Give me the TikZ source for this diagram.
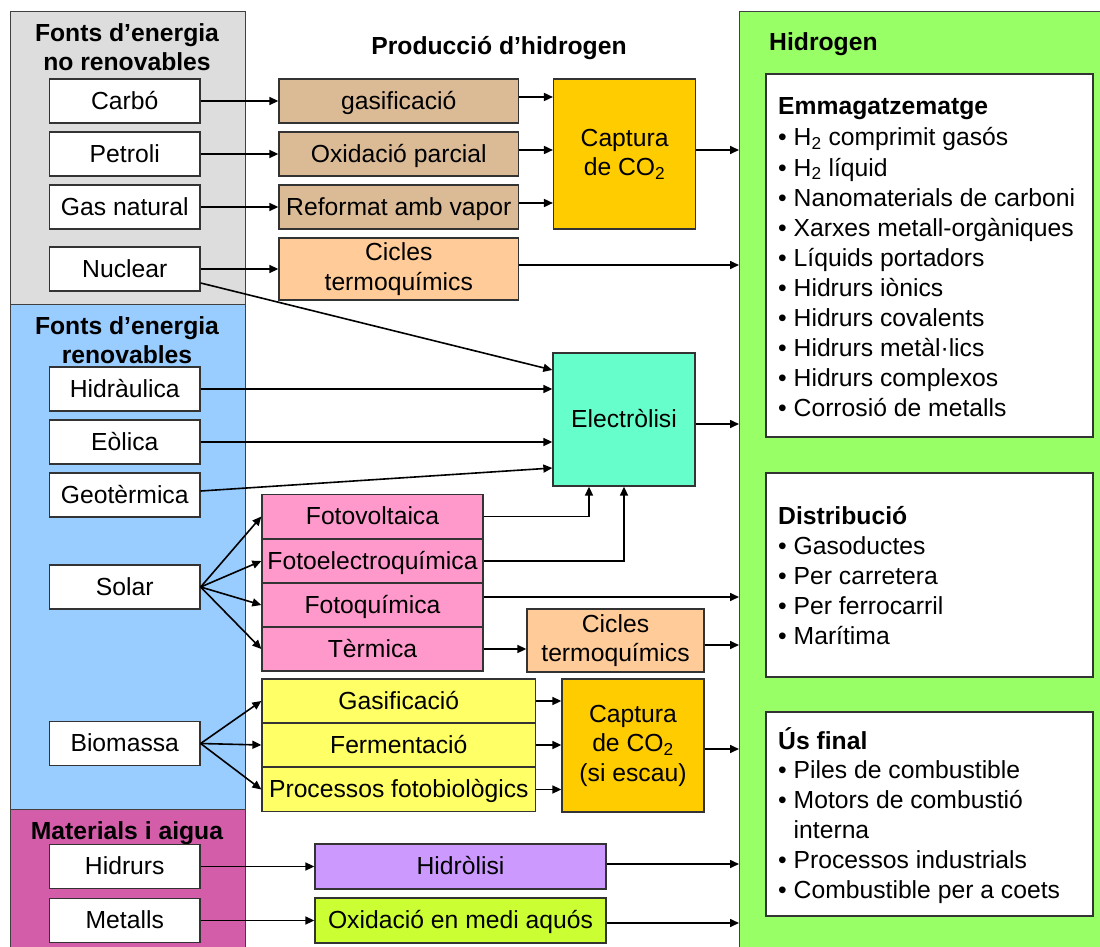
\documentclass[tikz,border=0pt]{standalone}
\usepackage{fontspec}
\setmainfont{Liberation Sans}
\usetikzlibrary{arrows.meta}

\definecolor{gris}{HTML}{DDDDDD}
\definecolor{blau}{HTML}{99CCFF}
\definecolor{lila}{HTML}{D45DA9}
\definecolor{verd}{HTML}{99FF66}
\definecolor{marro}{HTML}{DBBA96}
\definecolor{pressec}{HTML}{FFCC99}
\definecolor{taronja}{HTML}{FFCC00}
\definecolor{turquesa}{HTML}{66FFCC}
\definecolor{rosa}{HTML}{FF99CC}
\definecolor{groc}{HTML}{FFFF66}
\definecolor{violeta}{HTML}{CC99FF}
\definecolor{llima}{HTML}{CCFF33}

\begin{document}
\begin{tikzpicture}[x=1pt, y=-1pt, font=\fontsize{24.7}{29.5}\selectfont,
	box/.style={draw=black!80, line width=1.3pt, inner sep=0pt, align=center},
	single/.style={text height=18pt, text depth=1.2pt},
	panel/.style={draw=black!75, line width=1pt, inner sep=0pt, anchor=north west},
	title/.style={font=\fontsize{24.7}{29.5}\selectfont\bfseries, inner sep=0pt, align=center},
	item/.style={inner sep=0pt, anchor=base west},
	arr/.style={-{Triangle[length=9pt, width=8pt]}, line width=1.6pt}]
\useasboundingbox (0, 0) rectangle (1100, 947);
\def\drawbox#1#2#3#4#5#6{% {nom}{centre}{amplada}{alçada}{estil}{text}
	\node[box, #5, minimum width=#3, minimum height=#4] (#1) at (#2) {#6}
}
\def\drawpanel#1#2#3#4#5{% {nom}{cantó}{amplada}{alçada}{color}
	\node[panel, fill=#5, minimum width=#3, minimum height=#4] (#1) at (#2) {}
}

\drawpanel{norenov}{9.8, 11}{234.7}{293}{gris};
\drawpanel{renov}{9.8, 304}{234.7}{505}{blau};
\drawpanel{materials}{9.8, 809}{234.7}{160}{lila};
\drawpanel{hidrogen}{739, 11}{380}{960}{verd};

\node[title, anchor=north] (tnorenov) at (127, 21) {\rule{0pt}{20pt}Fonts d’energia\\no renovables};
\node[title, anchor=north] (trenov) at (127, 314) {\rule{0pt}{20pt}Fonts d’energia\\renovables};
\node[title, anchor=base] (tmaterials) at (127, 839) {Materials i aigua};
\node[title, anchor=base] (tproduccio) at (499, 55) {Producció d’hidrogen};
\node[title, anchor=base west] (thidrogen) at (769, 51) {Hidrogen};

\foreach \nom/\y/\txt in {carbo/101/Carbó, petroli/154/Petroli, gasnat/207/Gas natural, nuclear/269/Nuclear,
		hidraulica/389/Hidràulica, eolica/442/Eòlica, geoterm/495/Geotèrmica, solar/587/Solar,
		biomassa/743.5/Biomassa, hidrurs/866.5/Hidrurs, metalls/920.5/Metalls}
	\drawbox{\nom}{124.75, \y}{150.5}{44}{fill=white, single}{\txt};
\foreach \nom/\y/\txt in {gasif/101/gasificació, oxid/154/Oxidació parcial, reform/207/Reformat amb vapor}
	\drawbox{\nom}{398.75, \y}{239.5}{44}{fill=marro, single}{\txt};
\drawbox{cicles1}{398.75, 269}{239.5}{62}{fill=pressec}{Cicles\\termoquímics};
\drawbox{captura1}{624.6, 154}{142}{150}{fill=taronja}{Captura\\de CO\textsubscript{2}};
\drawbox{electro}{624, 419.5}{142}{133}{fill=turquesa, single}{Electròlisi};
\foreach \nom/\y/\txt in {fotovolt/516.5/Fotovoltaica, fotoelec/561/Fotoelectroquímica,
		fotoquim/605/Fotoquímica, termica/649/Tèrmica}
	\drawbox{\nom}{372.5, \y}{221}{44}{fill=rosa, single}{\txt};
\drawbox{cicles2}{615.5, 640.5}{177}{63}{fill=pressec}{Cicles\\termoquímics};
\foreach \nom/\y/\txt in {gasif2/701/Gasificació, ferment/745/Fermentació, fotobio/789.5/Processos fotobiològics}
	\drawbox{\nom}{398.8, \y}{273.6}{44}{fill=groc, single}{\txt};
\drawbox{captura2}{633, 745.5}{142}{133}{fill=taronja}{Captura\\de CO\textsubscript{2}\\(si escau)};
\drawbox{hidrolisi}{460.5, 866.5}{291}{45}{fill=violeta, single}{Hidròlisi};
\drawbox{oxidacio}{460.5, 920.5}{291}{45}{fill=llima, single}{Oxidació en medi aquós};
\drawbox{emmag}{929.5, 255.5}{327}{363}{fill=white}{};
\drawbox{distrib}{929.5, 575}{327}{204}{fill=white}{};
\drawbox{usfinal}{929.5, 814}{327}{204}{fill=white}{};

\node[title, anchor=base west] (temmag) at (778, 115) {Emmagatzematge};
\foreach \txt [count=\i] in {H\textsubscript{2} comprimit gasós, H\textsubscript{2} líquid, Nanomaterials de carboni,
		Xarxes metall-orgàniques, Líquids portadors, Hidrurs iònics, Hidrurs covalents,
		Hidrurs metàl·lics, Hidrurs complexos, Corrosió de metalls}
	\node[item] (emmag\i) at (778, 116+30*\i) {• \txt};
\node[title, anchor=base west] (tdistrib) at (778, 524) {Distribució};
\foreach \txt [count=\i] in {Gasoductes, Per carretera, Per ferrocarril, Marítima}
	\node[item] (distrib\i) at (778, 524+30*\i) {• \txt};
\node[title, anchor=base west] (tusfinal) at (778, 749) {Ús final};
\foreach \txt [count=\i] in {• Piles de combustible, • Motors de combustió, \hphantom{• }interna,
		• Processos industrials, • Combustible per a coets}
	\node[item] (usfinal\i) at (778, 748+30*\i) {\txt};

\foreach \a/\b in {carbo/gasif, petroli/oxid, gasnat/reform, nuclear/cicles1, hidraulica/electro,
		eolica/electro, termica/cicles2, hidrurs/hidrolisi, metalls/oxidacio,
		gasif2/captura2, ferment/captura2, fotobio/captura2}
	\draw[arr] (\a) -- (\a -| \b.west);
\foreach \a in {gasif, oxid, reform} {
	\coordinate (\a-o) at ([yshift=4pt]\a.east);
	\draw[arr] (\a-o) -- (\a-o -| captura1.west);
}
\foreach \a/\s in {captura1/4, cicles1/4, electro/-4.5, fotoquim/8, cicles2/-4.5,
		captura2/-3.5, hidrolisi/2.5, oxidacio/-2.5} {
	\coordinate (\a-h) at ([yshift=\s pt]\a.east);
	\draw[arr] (\a-h) -- (\a-h -| hidrogen.west);
}
\coordinate (nuclear-e) at ([yshift=-14pt]nuclear.east);
\coordinate (geoterm-e) at ([yshift=4pt]geoterm.east);
\draw[arr] (nuclear-e) -- ([yshift=49.5pt]electro.west);
\draw[arr] (geoterm-e) -- ([yshift=-48.5pt]electro.west);
\draw[arr] (fotovolt) -| ([xshift=-35pt]electro.south);
\draw[arr] (fotoelec) -| (electro.south);
\foreach \b in {fotovolt, fotoelec, fotoquim, termica}
	\draw[arr] (solar.east) -- (\b.west);
\foreach \b in {gasif2, ferment, fotobio}
	\draw[arr] (biomassa.east) -- (\b.west);
\end{tikzpicture}
\end{document}
